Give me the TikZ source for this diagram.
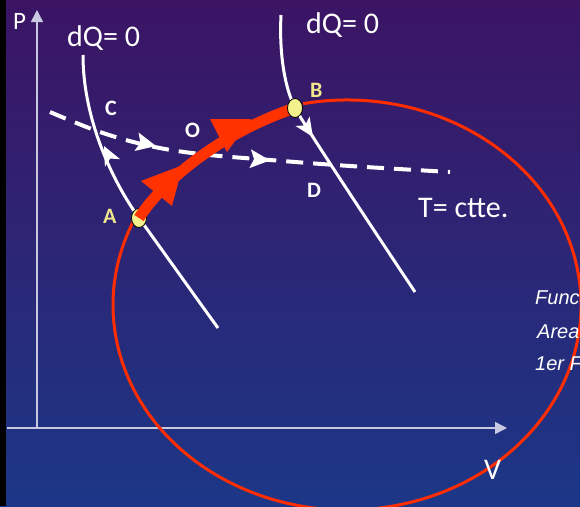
\documentclass[tikz,border=0pt]{standalone}
\usepackage{fontspec}
\setmainfont{Carlito}
\newfontfamily\arialfont{Liberation Sans}
\usetikzlibrary{arrows.meta,shapes.geometric}
\definecolor{bgtop}{RGB}{60,20,100}
\definecolor{bgmid}{RGB}{45,30,112}
\definecolor{bgbot}{RGB}{28,55,135}
\definecolor{axisgray}{RGB}{200,200,225}
\definecolor{redline}{RGB}{255,45,0}
\definecolor{bandred}{RGB}{255,50,0}
\definecolor{dotyellow}{RGB}{244,240,140}
\definecolor{labyellow}{RGB}{240,230,140}
\begin{document}
\begin{tikzpicture}[x=1pt,y=-1pt,
  lbl/.style={anchor=base west, inner sep=0pt, text=white},
  big/.style={font=\fontsize{30}{36}\selectfont},
  ptlbl/.style={font=\bfseries\fontsize{22}{26}\selectfont},
  ital/.style={font=\arialfont\itshape\fontsize{20}{24}\selectfont},
  axis/.style={draw=axisgray, line width=1.5pt, -{Triangle[length=12pt,width=12pt]}},
  adiab/.style={draw=white, line width=3pt},
  iso/.style={draw=white, line width=4pt, dash pattern=on 17pt off 10pt},
  dot/.style={ellipse, draw=black, line width=0.8pt, fill=dotyellow, minimum width=15pt, minimum height=19pt, inner sep=0pt},
  ]
\clip (0,0) rectangle (580,506);
\useasboundingbox (0,0) rectangle (580,506);
\shade[top color=bgtop, middle color=bgmid, bottom color=bgbot] (0,0) rectangle (580,506);
\fill[black] (0,0) rectangle (6,506);
% axes
\coordinate (O0) at (37,428);
\coordinate (Ptip) at (37,10);
\coordinate (Vstart) at (7,428);
\coordinate (Vtip) at (507,428);
\draw[axis] (O0) -- (Ptip);
\draw[axis] (Vstart) -- (Vtip);
% cycle: thin arc from B clockwise round to A
\coordinate (E) at (347,305);
\draw[draw=redline, line width=3pt] (E) ++(100.8:234pt and 205pt)
  arc[start angle=100.8, end angle=-205, x radius=234pt, y radius=205pt];
% isotherm
\draw[iso] plot[smooth, tension=0.6] coordinates {(50,112) (100,132) (150,146) (200,154) (270,160) (350,166) (450,172)};
\coordinate (i1) at (156,146);
\coordinate (i2) at (270,160.4);
\fill[white, shift={(i1)}, rotate=-12.4] (0,0) -- (-20,9.5) -- (-16,0) -- (-20,-9.5) -- cycle;
\fill[white, shift={(i2)}, rotate=-4.8] (0,0) -- (-20,9.5) -- (-16,0) -- (-20,-9.5) -- cycle;
% adiabats
\coordinate (A) at (139,218);
\coordinate (L0) at (83,55);
\coordinate (L1) at (218,328);
\coordinate (B) at (295,108);
\coordinate (R0) at (281,15);
\coordinate (R1) at (415,292);
\draw[adiab] (L1) .. controls (197,299) and (160,247) .. (A) .. controls (113,182) and (83,120) .. (L0);
\draw[adiab] (R0) .. controls (279,55) and (285,88) .. (B) .. controls (306,128) and (375,232) .. (R1);
\coordinate (lt) at (104,146);
\coordinate (rt) at (313,137);
\fill[white, shift={(lt)}, rotate=116.6] (0,0) -- (-19,8.5) -- (-14,0) -- (-19,-8.5) -- cycle;
\fill[white, shift={(rt)}, rotate=-56.3] (0,0) -- (-19,8.5) -- (-14,0) -- (-19,-8.5) -- cycle;
% dot A, band, dot B
\node[dot] (dA) at (A) {};
\draw[draw=bandred, line width=11pt] (A) .. controls (160,185) and (215,135) .. (B);
\coordinate (h1a) at (141,181); \coordinate (h1b) at (172,206); \coordinate (h1t) at (183,165);
\coordinate (h2a) at (210,119); \coordinate (h2b) at (227,152); \coordinate (h2t) at (251,119);
\fill[bandred] (h1a) -- (h1t) -- (h1b) -- cycle;
\fill[bandred] (h2a) -- (h2t) -- (h2b) -- cycle;
\node[dot] (dB) at (B) {};
% labels
\node[lbl, font=\fontsize{25}{30}\selectfont] (tP) at (13,29) {P};
\node[lbl, big] (tQ1) at (67,46) {dQ= 0};
\node[lbl, big] (tQ2) at (306,33) {dQ= 0};
\node[lbl, big] (tT) at (418,217) {T= ctte.};
\node[lbl, big] (tV) at (484,479) {V};
\node[lbl, ptlbl, text=labyellow] (tA) at (103,223) {A};
\node[lbl, ptlbl, text=labyellow] (tB) at (310,97) {B};
\node[lbl, ptlbl] (tC) at (105,115) {C};
\node[lbl, ptlbl] (tO) at (185,137) {O};
\node[lbl, ptlbl] (tD) at (307,197) {D};
\node[lbl, ital] (f1) at (535,304) {Func};
\node[lbl, ital] (f2) at (537,338) {Area};
\node[lbl, ital] (f3) at (535,370) {1er F};
\end{tikzpicture}
\end{document}
